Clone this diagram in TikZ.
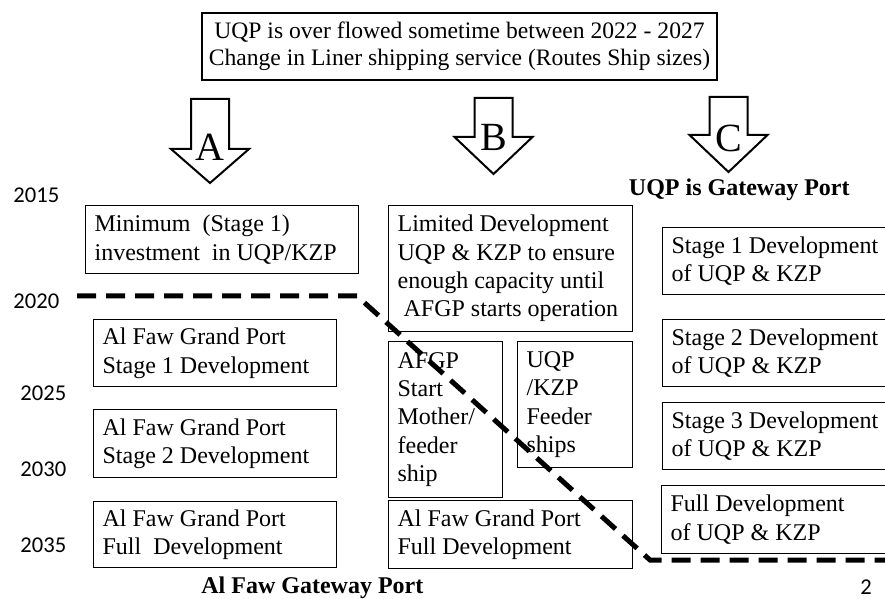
\documentclass[tikz,border=0pt]{standalone}
\usepackage{fontspec}
\setmainfont{Liberation Serif}
\newfontfamily\yearfont{Carlito}
\hyphenpenalty=10000
\exhyphenpenalty=10000
\tikzset{
    plan-box/.style = {draw, line width=0.6pt, rectangle, anchor=north west, align=flush left, inner xsep=4.5pt, inner ysep=0pt, font=\fontsize{12}{14.2}\selectfont},
    head-box/.style = {draw, line width=0.6pt, rectangle, align=center, minimum width=257.5pt, minimum height=33.5pt, font=\fontsize{11.8}{13.5}\selectfont},
    year-label/.style = {anchor=west, inner sep=0pt, font=\yearfont\fontsize{11.3}{13}\selectfont},
    option-arrow/.style = {line width=1pt, line join=miter},
    option-letter/.style = {inner sep=0pt, font=\fontsize{20}{22}\selectfont},
    path-title/.style = {inner sep=0pt, font=\bfseries\fontsize{12}{14}\selectfont},
    turn-line/.style = {line width=2.5pt, dash pattern=on 9.5pt off 5pt},
}

\begin{document}
\begin{tikzpicture}[x=0.5pt, y=-0.5pt]
\useasboundingbox (0,0) rectangle (885,599);
\clip (0,0) rectangle (885,599);

% scenario at the top
\node[head-box] (overflow) at (459.5,46.5) {UQP is over flowed sometime between 2022 - 2027\\Change in Liner shipping service (Routes Ship sizes)};

% the three options
\foreach \x/\ys/\yh/\yt/\yl/\name in {210/99/149/183/147/A, 493.5/98/137/174/137/B, 728.5/97/135/172/138/C} {
    \draw[option-arrow] (\x-19,\ys) -- (\x+19,\ys) -- (\x+19,\yh) -- (\x+39,\yh) -- (\x,\yt) -- (\x-39,\yh) -- (\x-19,\yh) -- cycle;
    \node[option-letter] (letter-\name) at (\x,\yl) {\name};
}

% years
\node[year-label] (y2015) at (13,195) {2015};
\node[year-label] (y2020) at (13,301) {2020};
\node[year-label] (y2025) at (20,393) {2025};
\node[year-label] (y2030) at (20,469) {2030};
\node[year-label] (y2035) at (20,545) {2035};

% option A
\node[plan-box, text width=127.5pt, minimum height=34pt] (min-inv) at (85,205) {Minimum\ \ (Stage 1)\\investment\ \ in UQP/KZP};
\node[plan-box, text width=112.5pt, minimum height=33.5pt] (afgp-s1) at (93,319) {Al Faw Grand Port\\Stage 1 Development};
\node[plan-box, text width=112.5pt, minimum height=34pt] (afgp-s2) at (93,409) {Al Faw Grand Port\\Stage 2 Development};
\node[plan-box, text width=112.5pt, minimum height=33pt] (afgp-full-a) at (93,501) {Al Faw Grand Port\\Full\ \ Development};

% option B
\node[plan-box, text width=113pt, minimum height=63pt] (limited-dev) at (388,205) {Limited Development\\\mbox{UQP \& KZP to ensure}\\enough capacity until\\\mbox{\ AFGP starts operation}};
\node[plan-box, text width=48pt, minimum height=78pt] (afgp-mother) at (388,341) {AFGP\\Start\\Mother/\\feeder\\ship};
\node[plan-box, text width=48.5pt, minimum height=63pt] (uqp-feeder) at (517,341) {UQP\\/KZP\\Feeder\\ships};
\node[plan-box, text width=113pt, minimum height=34pt] (afgp-full-b) at (388,500) {Al Faw Grand Port\\Full Development};

% option C
\node[path-title, anchor=base east] (uqp-gateway) at (850,196) {UQP is Gateway Port};
\node[plan-box, text width=110pt, minimum height=33.5pt] (uqp-s1) at (662,227) {Stage 1 Development\\of UQP \& KZP};
\node[plan-box, text width=110pt, minimum height=33.5pt] (uqp-s2) at (662,319) {Stage 2 Development\\of UQP \& KZP};
\node[plan-box, text width=110pt, minimum height=33.5pt] (uqp-s3) at (662,402) {Stage 3 Development\\of UQP \& KZP};
\node[plan-box, text width=110.5pt, minimum height=34pt] (uqp-full) at (661,485) {Full Development\\of UQP \& KZP};

\node[path-title, anchor=base west] (afgp-gateway) at (201,593) {Al Faw Gateway Port};
\node[year-label, anchor=base] (page-no) at (866,594) {2};

% turning line
\coordinate (turn-start) at (77,296);
\coordinate (turn-end) at (885,560);
\draw[turn-line] (turn-start) -- (357,296) -- (650,560) -- (turn-end);
\end{tikzpicture}
\end{document}
